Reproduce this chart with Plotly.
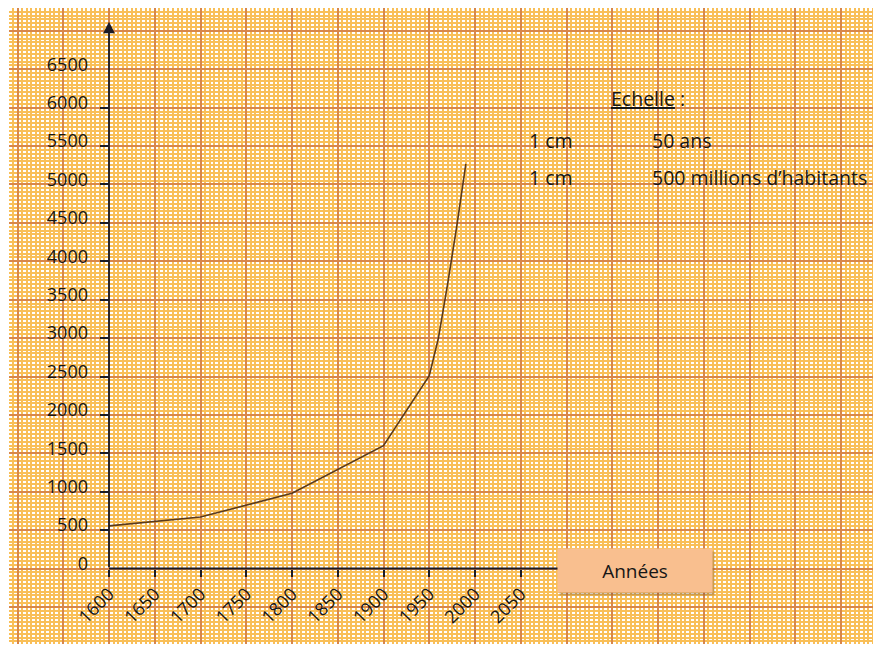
import plotly.graph_objects as go

# ---- data ----
YEARS = [1600, 1700, 1800, 1900, 1950, 1960, 1970, 1980, 1990]
POPULATION = [555, 670, 980, 1600, 2510, 3000, 3700, 4450, 5270]  # millions d'habitants

X_TICKS = [1600, 1650, 1700, 1750, 1800, 1850, 1900, 1950, 2000, 2050]
Y_LABELS = [0, 500, 1000, 1500, 2000, 2500, 3000, 3500, 4000, 4500, 5000, 5500, 6000, 6500]
Y_TICKMARKS = [500, 1000, 1500, 2000, 2500, 3000, 3500, 4000, 4500, 5000, 5500, 6000]

SCALE_ROWS = [("1 cm", "50 ans"), ("1 cm", "500 millions d’habitants")]

# ---- layout constants ----
# the page body adds an 8px margin, so the figure is sized to end at the window edge
W, H = 873, 637
X_RANGE = [1490.7, 2443.7]
Y_RANGE = [-983, 7298]
INK = "#1c1c26"
TXT = "#161616"
FONT = "Open Sans"
MAJOR = "#D8874A"
MINOR = "#F9BF58"

pos_y_axis = (X_TICKS[0] - X_RANGE[0]) / (X_RANGE[1] - X_RANGE[0])
pos_x_axis = (0 - Y_RANGE[0]) / (Y_RANGE[1] - Y_RANGE[0])

fig = go.Figure()

fig.add_trace(go.Scatter(
    x=YEARS, y=POPULATION, mode="lines",
    line=dict(color="#5A3A1C", width=1.6),
    hoverinfo="skip", showlegend=False))

# invisible anchors so the overlay axes are drawn
fig.add_trace(go.Scatter(x=[X_TICKS[0]], y=[0], xaxis="x2", yaxis="y2",
                         mode="markers", marker=dict(opacity=0),
                         hoverinfo="skip", showlegend=False))
fig.add_trace(go.Scatter(x=[X_TICKS[0]], y=[0], xaxis="x2", yaxis="y3",
                         mode="markers", marker=dict(opacity=0),
                         hoverinfo="skip", showlegend=False))

grid_common = dict(showline=False, zeroline=False, showticklabels=False, ticks="")

fig.update_layout(
    width=W, height=H,
    margin=dict(l=1, r=0, t=0, b=1, pad=0),
    paper_bgcolor="white", plot_bgcolor="white",
    font=dict(family=FONT, color=TXT),
    showlegend=False,
    xaxis=dict(range=X_RANGE, tick0=X_TICKS[0], dtick=50,
               showgrid=True, gridcolor=MAJOR, gridwidth=2,
               minor=dict(tick0=X_TICKS[0], dtick=5, showgrid=True,
                          gridcolor=MINOR, gridwidth=2),
               **grid_common),
    yaxis=dict(range=Y_RANGE, tick0=0, dtick=500,
               showgrid=True, gridcolor=MAJOR, gridwidth=2,
               minor=dict(tick0=0, dtick=50, showgrid=True,
                          gridcolor=MINOR, gridwidth=2),
               **grid_common),
    xaxis2=dict(range=X_RANGE, overlaying="x", anchor="free", position=pos_x_axis,
                side="bottom", tickmode="array", tickvals=X_TICKS,
                ticktext=[str(v) for v in X_TICKS],
                ticks="outside", ticklen=7, tickwidth=1.5, tickcolor=INK,
                tickangle=-45, tickfont=dict(family=FONT, size=18, color=TXT),
                showgrid=False, showline=False, zeroline=False),
    yaxis2=dict(range=Y_RANGE, overlaying="y", anchor="free", position=pos_y_axis,
                side="left", tickmode="array", tickvals=Y_LABELS,
                ticktext=[str(v) for v in Y_LABELS], ticks="",
                ticklabelstandoff=21, ticklabelshift=-5,
                tickfont=dict(family=FONT, size=18, color=TXT),
                showgrid=False, showline=False, zeroline=False),
    yaxis3=dict(range=Y_RANGE, overlaying="y", anchor="free", position=pos_y_axis,
                side="left", tickmode="array", tickvals=Y_TICKMARKS,
                ticks="outside", ticklen=9, tickwidth=1.5, tickcolor=INK,
                showticklabels=False,
                showgrid=False, showline=False, zeroline=False),
)

# x axis line (runs under the "Années" box)
fig.add_shape(type="line", xref="x", yref="y",
              x0=X_TICKS[0], y0=0, x1=2175, y1=0,
              line=dict(color=INK, width=1.8), layer="above")

# y axis with arrow
fig.add_annotation(x=X_TICKS[0], y=7120, ax=X_TICKS[0], ay=0,
                   xref="x", yref="y", axref="x", ayref="y",
                   text="", showarrow=True, arrowhead=2, arrowsize=1.3,
                   arrowwidth=1.8, arrowcolor=INK)

# "Années" box with soft shadow
box_x, box_y = 2175, -29
fig.add_annotation(x=box_x, y=box_y, xref="x", yref="y", text="",
                   showarrow=False, width=154, height=43, borderpad=0,
                   bgcolor="rgba(90,60,40,0.28)", xshift=2, yshift=-3)
fig.add_annotation(x=box_x, y=box_y, xref="x", yref="y", text="Années",
                   showarrow=False, width=154, height=43, borderpad=0,
                   bgcolor="#F9BF8F", font=dict(family=FONT, size=19, color=TXT))

# scale legend
fig.add_annotation(x=2146, y=6116, xref="x", yref="y", text="<u>Echelle</u> :",
                   showarrow=False, xanchor="left", yanchor="middle",
                   font=dict(family=FONT, size=19.5, color=TXT))
row_y = [5573, 5091]
for (left, right), yy in zip(SCALE_ROWS, row_y):
    fig.add_annotation(x=2056.6, y=yy, xref="x", yref="y", text=left,
                       showarrow=False, xanchor="left", yanchor="middle",
                       font=dict(family=FONT, size=19.5, color=TXT))
    fig.add_annotation(x=2191.6, y=yy, xref="x", yref="y", text=right,
                       showarrow=False, xanchor="left", yanchor="middle",
                       font=dict(family=FONT, size=19.5, color=TXT))

fig.write_html("out.html", config=dict(displayModeBar=False))
